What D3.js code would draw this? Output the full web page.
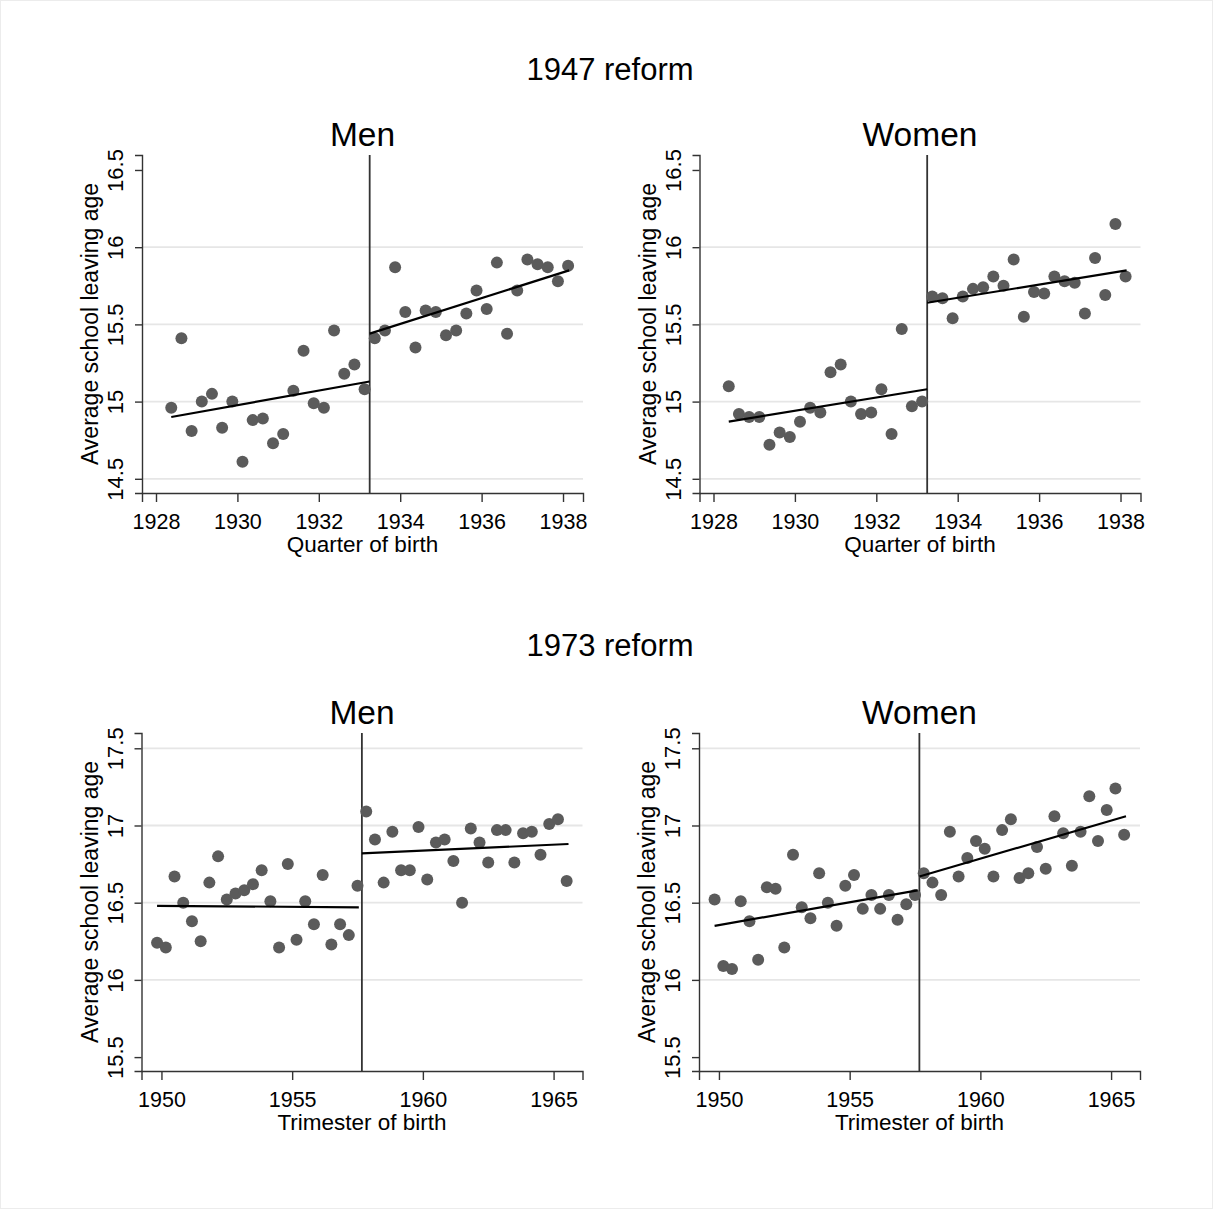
<!DOCTYPE html>
<html>
<head>
<meta charset="utf-8">
<script src="https://cdn.jsdelivr.net/npm/d3@7"></script>
<style>
  body { margin: 0; background: #fff; }
  svg text { font-family: "Liberation Sans", Arial, Helvetica, sans-serif; fill: #000; }
</style>
</head>
<body>
<svg id="chart"></svg>
<script>
// birth cohorts (quarter / trimester mid points)
var quartersPre  = [1928.375,1928.625,1928.875,1929.125,1929.375,1929.625,1929.875,1930.125,1930.375,1930.625,
                    1930.875,1931.125,1931.375,1931.625,1931.875,1932.125,1932.375,1932.625,1932.875,1933.125];
var quartersPost = [1933.375,1933.625,1933.875,1934.125,1934.375,1934.625,1934.875,1935.125,1935.375,1935.625,
                    1935.875,1936.125,1936.375,1936.625,1936.875,1937.125,1937.375,1937.625,1937.875,1938.125];
var trimPre  = [1949.833,1950.167,1950.5,1950.833,1951.167,1951.5,1951.833,1952.167,1952.5,1952.833,1953.167,1953.5,
                1953.833,1954.167,1954.5,1954.833,1955.167,1955.5,1955.833,1956.167,1956.5,1956.833,1957.167,1957.5];
var trimPost = [1957.833,1958.167,1958.5,1958.833,1959.167,1959.5,1959.833,1960.167,1960.5,1960.833,1961.167,1961.5,
                1961.833,1962.167,1962.5,1962.833,1963.167,1963.5,1963.833,1964.167,1964.5,1964.833,1965.167,1965.5];

// average school leaving age, 1947 reform
var men47Pre    = [14.96,15.41,14.81,15.00,15.05,14.83,15.00,14.61,14.88,14.89,14.73,14.79,15.07,15.33,14.99,14.96,15.46,15.18,15.24,15.08];
var men47Post   = [15.41,15.46,15.87,15.58,15.35,15.59,15.58,15.43,15.46,15.57,15.72,15.60,15.90,15.44,15.72,15.92,15.89,15.87,15.78,15.88];
var women47Pre  = [15.10,14.92,14.90,14.90,14.72,14.80,14.77,14.87,14.96,14.93,15.19,15.24,15.00,14.92,14.93,15.08,14.79,15.47,14.97,15.00];
var women47Post = [15.68,15.67,15.54,15.68,15.73,15.74,15.81,15.75,15.92,15.55,15.71,15.70,15.81,15.78,15.77,15.57,15.93,15.69,16.15,15.81];

// average school leaving age, 1973 reform
var men73Pre    = [16.24,16.21,16.67,16.50,16.38,16.25,16.63,16.80,16.52,16.56,16.58,16.62,16.71,16.51,16.21,16.75,16.26,16.51,16.36,16.68,16.23,16.36,16.29,16.61];
var men73Post   = [17.09,16.91,16.63,16.96,16.71,16.71,16.99,16.65,16.89,16.91,16.77,16.50,16.98,16.89,16.76,16.97,16.97,16.76,16.95,16.96,16.81,17.01,17.04,16.64];
var women73Pre  = [16.52,16.09,16.07,16.51,16.38,16.13,16.60,16.59,16.21,16.81,16.47,16.40,16.69,16.50,16.35,16.61,16.68,16.46,16.55,16.46,16.55,16.39,16.49,16.55];
var women73Post = [16.69,16.63,16.55,16.96,16.67,16.79,16.90,16.85,16.67,16.97,17.04,16.66,16.69,16.86,16.72,17.06,16.95,16.74,16.96,17.19,16.90,17.10,17.24,16.94];

// fitted lines: [start year, start value, end year, end value]
var men47Fit    = [[1928.375,14.90,1933.25,15.13],[1933.25,15.44,1938.15,15.85]];
var women47Fit  = [[1928.375,14.87,1933.25,15.08],[1933.25,15.64,1938.15,15.85]];
var men73Fit    = [[1949.833,16.48,1957.55,16.47],[1957.667,16.82,1965.57,16.88]];
var women73Fit  = [[1949.833,16.35,1957.6,16.58],[1957.667,16.67,1965.57,17.06]];

// axis ticks
var ticks47X = [1928,1930,1932,1934,1936,1938];
var ticks47Y = [14.5,15,15.5,16,16.5];
var grid47Y  = [14.5,15,15.5,16];
var ticks73X = [1950,1955,1960,1965];
var ticks73Y = [15.5,16,16.5,17,17.5];
var grid73Y  = [16,16.5,17,17.5];

var cutoff47 = 1933.25;
var cutoff73 = 1957.667;

var W = 1213, H = 1209;
var svg = d3.select("#chart").attr("width", W).attr("height", H);
svg.append("rect").attr("x", 0.5).attr("y", 0.5).attr("width", W - 1).attr("height", H - 1)
	.attr("fill", "#fff").attr("stroke", "#ececec");

function drawPanel(p){
	var x = d3.scaleLinear().domain(p.xdom).range([p.left, p.left + 441]);
	var y = d3.scaleLinear().domain(p.ydom).range([p.top + 338, p.top]);
	var g = svg.append("g");

	// gridlines
	g.selectAll(".grid").data(p.grid).enter().append("line")
		.attr("x1", p.left).attr("x2", p.left + 441)
		.attr("y1", function(d){return y(d)}).attr("y2", function(d){return y(d)})
		.attr("stroke", "#e6e6e6").attr("stroke-width", 1.8);

	// axes
	var xa = g.append("g").attr("transform", "translate(0," + (p.top + 338) + ")")
		.call(d3.axisBottom(x).tickValues(p.xticks).tickSize(9).tickPadding(6).tickFormat(d3.format("d")));
	xa.select(".domain").attr("stroke", "#333").attr("stroke-width", 1.4);
	xa.selectAll(".tick line").attr("stroke", "#333").attr("stroke-width", 1.4);
	xa.selectAll(".tick text").attr("font-size", 21.5).attr("dy", null).attr("y", 36);

	var ya = g.append("g").attr("transform", "translate(" + p.left + ",0)")
		.call(d3.axisLeft(y).tickValues(p.yticks).tickSize(7).tickFormat(function(d){return String(d)}));
	ya.select(".domain").attr("stroke", "#333").attr("stroke-width", 1.4);
	ya.selectAll(".tick line").attr("stroke", "#333").attr("stroke-width", 1.4);
	ya.selectAll(".tick text").attr("font-size", 22).attr("dy", null).attr("x", null)
		.attr("text-anchor", "middle").attr("transform", "translate(-19,0) rotate(-90)");

	// cutoff line
	g.append("line")
		.attr("x1", x(p.cutoff)).attr("x2", x(p.cutoff))
		.attr("y1", p.top).attr("y2", p.top + 338)
		.attr("stroke", "#333").attr("stroke-width", 1.8);

	// points
	var pts = [];
	p.xpre.forEach(function(d, i){ pts.push({x: d, v: p.pre[i]}); });
	p.xpost.forEach(function(d, i){ pts.push({x: d, v: p.post[i]}); });
	g.selectAll("circle").data(pts).enter().append("circle")
		.attr("cx", function(d){return x(d.x)})
		.attr("cy", function(d){return y(d.v)})
		.attr("r", 6)
		.attr("fill", "#5b5b5b");

	// fits
	g.selectAll(".fit").data(p.fit).enter().append("line")
		.attr("x1", function(d){return x(d[0])}).attr("y1", function(d){return y(d[1])})
		.attr("x2", function(d){return x(d[2])}).attr("y2", function(d){return y(d[3])})
		.attr("stroke", "#000").attr("stroke-width", 2.2);

	// titles
	g.append("text").attr("x", p.left + 220.5).attr("y", p.top - 9)
		.attr("text-anchor", "middle").attr("font-size", 33.5).text(p.title);
	g.append("text").attr("x", p.left + 220.5).attr("y", p.top + 338 + 59)
		.attr("text-anchor", "middle").attr("font-size", 22.5).text(p.xlabel);
	g.append("text").attr("transform", "translate(" + (p.left - 44) + "," + (p.top + 169) + ") rotate(-90)")
		.attr("text-anchor", "middle").attr("font-size", 23).text("Average school leaving age");
}

var dom47X = [1927.656, 1938.491], dom47Y = [14.408, 16.597];
var dom73X = [1949.237, 1966.106], dom73Y = [15.41, 17.599];

drawPanel({left: 142, top: 155, xdom: dom47X, ydom: dom47Y, xticks: ticks47X, yticks: ticks47Y, grid: grid47Y,
	cutoff: cutoff47, xpre: quartersPre, xpost: quartersPost, pre: men47Pre, post: men47Post, fit: men47Fit,
	title: "Men", xlabel: "Quarter of birth"});
drawPanel({left: 699.5, top: 155, xdom: dom47X, ydom: dom47Y, xticks: ticks47X, yticks: ticks47Y, grid: grid47Y,
	cutoff: cutoff47, xpre: quartersPre, xpost: quartersPost, pre: women47Pre, post: women47Post, fit: women47Fit,
	title: "Women", xlabel: "Quarter of birth"});
drawPanel({left: 141.5, top: 733, xdom: dom73X, ydom: dom73Y, xticks: ticks73X, yticks: ticks73Y, grid: grid73Y,
	cutoff: cutoff73, xpre: trimPre, xpost: trimPost, pre: men73Pre, post: men73Post, fit: men73Fit,
	title: "Men", xlabel: "Trimester of birth"});
drawPanel({left: 699, top: 733, xdom: dom73X, ydom: dom73Y, xticks: ticks73X, yticks: ticks73Y, grid: grid73Y,
	cutoff: cutoff73, xpre: trimPre, xpost: trimPost, pre: women73Pre, post: women73Post, fit: women73Fit,
	title: "Women", xlabel: "Trimester of birth"});

svg.append("text").attr("x", 610).attr("y", 80).attr("text-anchor", "middle").attr("font-size", 31).text("1947 reform");
svg.append("text").attr("x", 610).attr("y", 656).attr("text-anchor", "middle").attr("font-size", 31).text("1973 reform");
</script>
</body>
</html>
